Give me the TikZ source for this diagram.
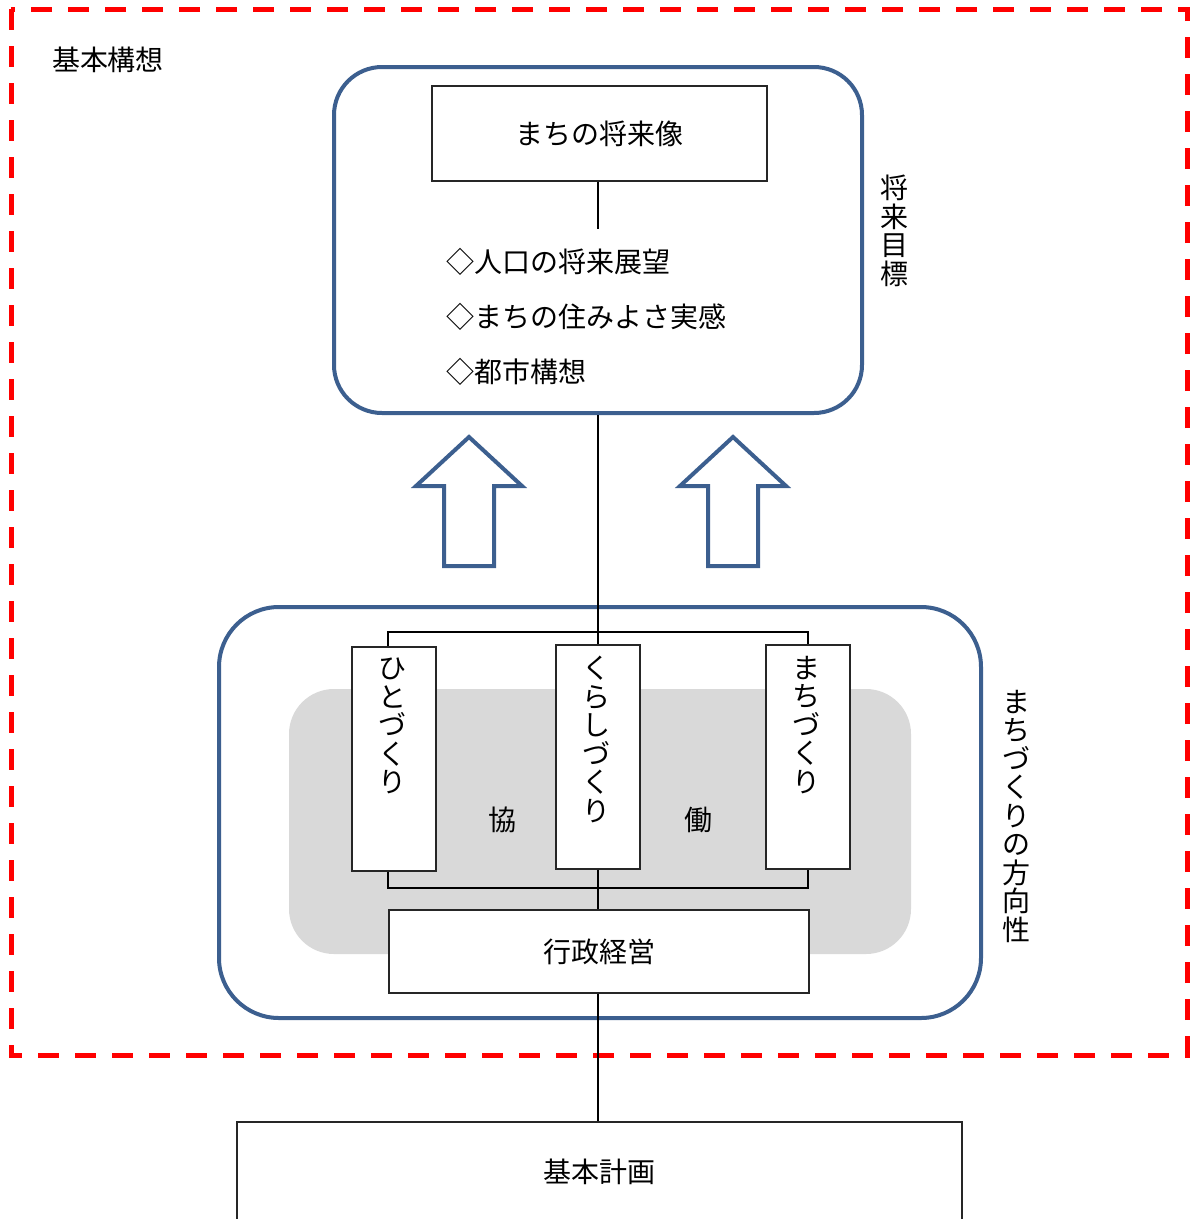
\documentclass[tikz,border=0pt]{standalone}
\usepackage{fontspec}
\setmainfont{Noto Sans CJK JP}
\definecolor{frameblue}{HTML}{3C5F8F}
\definecolor{panelgray}{HTML}{D9D9D9}
\tikzset{
  outline/.style={draw=red, line width=5pt, dash pattern=on 21pt off 16pt},
  bluebox/.style={draw=frameblue, line width=4pt, fill=white},
  plainbox/.style={draw=black!85, line width=1.3pt, fill=white, inner sep=0pt},
  wire/.style={line width=2pt},
  blockarrow/.style={draw=frameblue, line width=4pt, line join=miter, fill=white},
  jtext/.style={font=\fontsize{28}{28.5}\selectfont, inner sep=0pt},
  vtext/.style={jtext, align=center, anchor=north},
}
\begin{document}
\begin{tikzpicture}[x=1pt, y=-1pt]
	\useasboundingbox (0,0) rectangle (1192,1219);

	% Outer frame
	\draw[outline] (11,9) rectangle (1187,1055);
	\node[jtext] (kousou) at (108,60) {基本構想};

	% Future goals
	\node[bluebox, rounded corners=48pt, minimum width=528, minimum height=346] (goal) at (598,240) {};
	\node[plainbox, jtext, minimum width=335, minimum height=95] (future) at (599.5,133.5) {まちの将来像};
	\coordinate (stem) at (598,229);
	\node[jtext, anchor=west] (pop) at (446,262) {◇人口の将来展望};
	\node[jtext, anchor=west] (live) at (446,317) {◇まちの住みよさ実感};
	\node[jtext, anchor=west] (city) at (446,372) {◇都市構想};
	\node[vtext] (goallabel) at (894,175) {将\\来\\目\\標};

	% Block arrows
	\draw[blockarrow] (469,437) -- (522,486) -- (494,486) -- (494,566) -- (444,566) -- (444,486) -- (416,486) -- cycle;
	\draw[blockarrow] (733,437) -- (786,486) -- (758,486) -- (758,566) -- (708,566) -- (708,486) -- (680,486) -- cycle;

	% Directions
	\node[bluebox, rounded corners=60pt, minimum width=762, minimum height=411] (dir) at (600,812.5) {};
	\fill[panelgray, rounded corners=45pt] (289,689) rectangle (911,954);
	\node[vtext] (dirlabel) at (1016,690) {ま\\ち\\づ\\く\\り\\の\\方\\向\\性};

	\node[plainbox, minimum width=84, minimum height=224] (hito) at (394,759) {};
	\node[plainbox, minimum width=84, minimum height=224] (kurashi) at (598,757) {};
	\node[plainbox, minimum width=84, minimum height=224] (machi) at (808,757) {};
	\node[vtext] (hitotext) at (392,658) {ひ\\と\\づ\\く\\り};
	\node[vtext] (kurashitext) at (596,656) {く\\ら\\し\\づ\\く\\り};
	\node[vtext] (machitext) at (806,656) {ま\\ち\\づ\\く\\り};
	\node[jtext] (kyo) at (502,820) {協};
	\node[jtext] (do) at (698,820) {働};

	\node[plainbox, jtext, minimum width=420, minimum height=83] (admin) at (599,951.5) {行政経営};

	% Basic plan
	\node[plainbox, jtext, minimum width=725, minimum height=100] (plan) at (599.5,1172) {基本計画};

	% Connectors
	\draw[wire] (future.south -| stem) -- (stem);
	\draw[wire] (goal.south -| kurashi.north) -- (kurashi.north);
	\draw[wire] ([xshift=-6pt]hito.north) -- ++(0,-14) -| (machi.north);
	\draw[wire] ([xshift=-6pt]hito.south) -- ++(0,16) -| (machi.south);
	\draw[wire] (kurashi.south) -- (kurashi.south |- admin.north);
	\draw[wire] (admin.south -| kurashi.south) -- (kurashi.south |- plan.north);
\end{tikzpicture}
\end{document}
